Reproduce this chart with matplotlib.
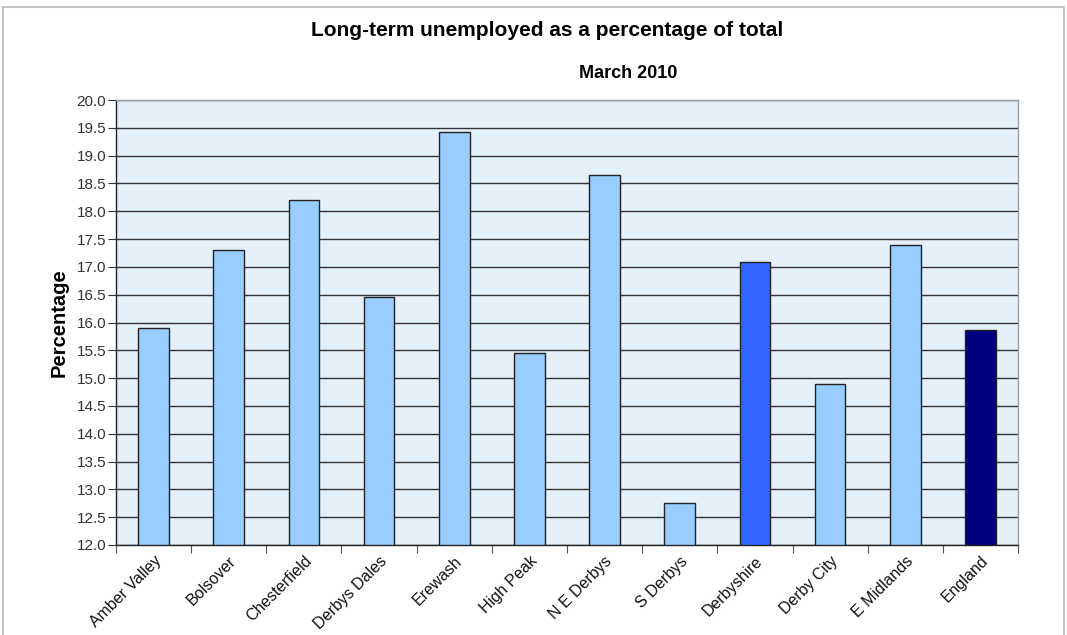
import matplotlib
matplotlib.use("Agg")
import matplotlib.pyplot as plt
from matplotlib.patches import Rectangle
import numpy as np

plt.rcParams['font.family'] = ['Liberation Sans', 'DejaVu Sans']

areas = ["Amber Valley", "Bolsover", "Chesterfield", "Derbys Dales", "Erewash",
         "High Peak", "N E Derbys", "S Derbys", "Derbyshire", "Derby City",
         "E Midlands", "England"]
long_term_pct = [15.9, 17.3, 18.2, 16.45, 19.42, 15.45, 18.65, 12.75,
                 17.09, 14.9, 17.4, 15.87]
bar_colors = ["#99CCFF"] * 8 + ["#3366FF", "#99CCFF", "#99CCFF", "#000080"]
y_ticks = np.arange(12.0, 20.01, 0.5)

W, H = 1067, 635
fig = plt.figure(figsize=(W / 100, H / 100), dpi=100)
fig.patch.set_facecolor("white")

# outer chart border
fig.add_artist(Rectangle((3 / W, -0.01), (W - 6) / W, (H - 7) / H + 0.01,
                         transform=fig.transFigure, fill=False,
                         edgecolor="#C4C4C4", linewidth=1.5))

left, right, top, bottom = 116, 1018, 100, 545
ax = fig.add_axes([left / W, 1 - bottom / H, (right - left) / W, (bottom - top) / H])
ax.set_facecolor("#E4F0FA")

x = np.arange(len(areas))
ax.bar(x, [v - 12.0 for v in long_term_pct], bottom=12.0, width=0.41,
       color=bar_colors, edgecolor="#222222", linewidth=1.0, zorder=3)

ax.set_xlim(-0.5, len(areas) - 0.5)
ax.set_ylim(12.0, 20.0)
ax.set_yticks(y_ticks)
ax.set_yticklabels([f"{t:.1f}" for t in y_ticks], fontsize=11, color="#333333")
ax.yaxis.grid(True, color="#333333", linewidth=1.0, zorder=1)
ax.set_axisbelow(True)

# category ticks sit on the boundaries between bars
ax.set_xticks(np.arange(-0.5, len(areas) + 0.5, 1.0))
ax.set_xticklabels([])
ax.set_xticks(x, minor=True)
ax.set_xticklabels(areas, minor=True, rotation=45, ha="right",
                   rotation_mode="anchor", fontsize=11.5, color="#111111")
ax.tick_params(axis="x", which="minor", length=0, pad=6)
ax.tick_params(axis="x", which="major", length=6, color="#555555", direction="out")
ax.tick_params(axis="y", length=6, color="#333333", direction="out", pad=1)

for side in ("left", "bottom"):
    ax.spines[side].set_color("#222222")
    ax.spines[side].set_linewidth(1.0)
for side in ("top", "right"):
    ax.spines[side].set_color("#A0A0A0")
    ax.spines[side].set_linewidth(1.0)

ax.set_ylabel("Percentage", fontsize=14.5, fontweight="bold", labelpad=6)

fig.text(547 / W, 1 - 31 / H, "Long-term unemployed as a percentage of total",
         ha="center", va="center", fontsize=15, fontweight="bold")
fig.text(628 / W, 1 - 74 / H, "March 2010",
         ha="center", va="center", fontsize=13, fontweight="bold")

fig.savefig("out.png", dpi=100, facecolor="white")
